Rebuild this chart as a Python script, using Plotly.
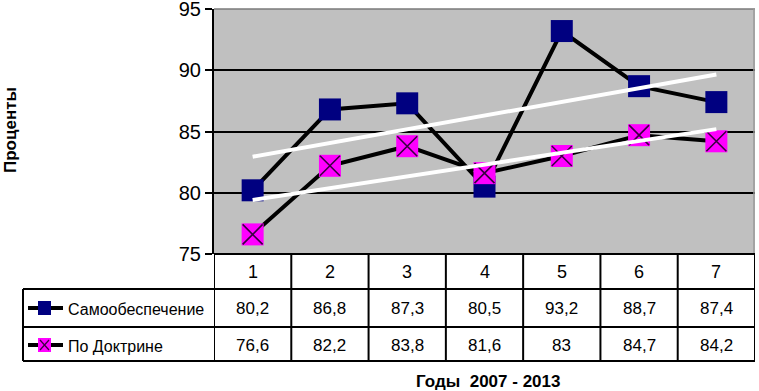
import numpy as np
import plotly.graph_objects as go

categories = [1, 2, 3, 4, 5, 6, 7]
tick_labels = ["1", "2", "3", "4", "5", "6", "7"]
series_names = ["Самообеспечение", "По Доктрине"]
samoobesp = [80.2, 86.8, 87.3, 80.5, 93.2, 88.7, 87.4]
doktrina = [76.6, 82.2, 83.8, 81.6, 83.0, 84.7, 84.2]
samoobesp_lbl = ["80,2", "86,8", "87,3", "80,5", "93,2", "88,7", "87,4"]
doktrina_lbl = ["76,6", "82,2", "83,8", "81,6", "83", "84,7", "84,2"]

W, H = 759, 391
PL, PR, PT, PB = 214, 755, 9, 254  # plot area in pixels

def px(x):
    return (x - PL) / (PR - PL)

def py(y):
    return (PB - y) / (PB - PT)

NAVY = "#000080"
MAG = "#FF00FF"
SANS = "Liberation Sans, Arial, sans-serif"

fig = go.Figure()

x = np.array(categories, dtype=float)
fig.add_trace(go.Scatter(x=categories, y=samoobesp, mode="lines+markers",
                         line=dict(color="black", width=4),
                         marker=dict(symbol="square", size=22, color=NAVY),
                         showlegend=False))
fig.add_trace(go.Scatter(x=categories, y=doktrina, mode="lines+markers",
                         line=dict(color="black", width=4),
                         marker=dict(symbol="square", size=22, color=MAG),
                         showlegend=False))
fig.add_trace(go.Scatter(x=categories, y=doktrina, mode="markers",
                         marker=dict(symbol="x-thin", size=20,
                                     line=dict(color="#3a0040", width=1.6)),
                         showlegend=False))

# linear trend lines (least squares fit of each series)
for ys in (samoobesp, doktrina):
    k, b = np.polyfit(x, np.array(ys), 1)
    fig.add_trace(go.Scatter(x=[x[0], x[-1]], y=[k * x[0] + b, k * x[-1] + b],
                             mode="lines", line=dict(color="white", width=4),
                             showlegend=False, hoverinfo="skip"))

shapes = []
def hline(y, x0, x1, w=2, color="black"):
    shapes.append(dict(type="line", xref="paper", yref="paper",
                       x0=px(x0), x1=px(x1), y0=py(y), y1=py(y),
                       line=dict(color=color, width=w)))

def vline(xv, y0, y1, xref="paper", w=2, color="black"):
    shapes.append(dict(type="line", xref=xref, yref="paper",
                       x0=xv if xref == "x" else px(xv), x1=xv if xref == "x" else px(xv),
                       y0=py(y0), y1=py(y1), line=dict(color=color, width=w)))

# plot area border (top/right)
hline(PT, PL, PR, w=1.5, color="#7a7a7a")
vline(PR - 1, PT, PB, w=1.5, color="#9a9a9a")

# data table
ROW_TOP, ROW1, ROW2, ROW3 = 254, 289, 327, 361
TL = 23
hline(ROW_TOP, PL, PR)
hline(ROW1, TL, PR)
hline(ROW2, TL, PR)
hline(ROW3, TL, PR)
vline(TL, ROW1, ROW3)
for c in [c - 0.5 for c in categories] + [categories[-1] + 0.5]:
    vline(c, ROW_TOP, ROW3, xref="x")

# legend keys in the table
for yc, col in ((308, NAVY), (345, MAG)):
    hline(yc, 28, 63, w=4)
    shapes.append(dict(type="rect", xref="paper", yref="paper",
                       x0=px(38), x1=px(51), y0=py(yc + 7), y1=py(yc - 7),
                       fillcolor=col, line=dict(width=0)))
shapes.append(dict(type="line", xref="paper", yref="paper", x0=px(40), x1=px(49),
                   y0=py(350), y1=py(340), line=dict(color="#3a0040", width=1.2)))
shapes.append(dict(type="line", xref="paper", yref="paper", x0=px(40), x1=px(49),
                   y0=py(340), y1=py(350), line=dict(color="#3a0040", width=1.2)))

annotations = []
def txt(xv, yv, s, xref="x", size=17, xanchor="center", bold=False, angle=0):
    annotations.append(dict(x=xv if xref == "x" else px(xv), y=py(yv), xref=xref, yref="paper",
                            text=f"<b>{s}</b>" if bold else s, showarrow=False,
                            xanchor=xanchor, yanchor="middle", textangle=angle,
                            font=dict(family=SANS, size=size, color="black")))

for c, t in zip(categories, tick_labels):
    txt(c, 272, t, size=18)
for c, t in zip(categories, samoobesp_lbl):
    txt(c, 308, t)
for c, t in zip(categories, doktrina_lbl):
    txt(c, 345, t)
txt(66, 309, series_names[0], xref="paper", xanchor="left", size=16)
txt(66, 346, series_names[1], xref="paper", xanchor="left", size=16)
txt(488, 381, "Годы  2007 - 2013", xref="paper", size=17, bold=True)
txt(10, 130, "Проценты", xref="paper", size=17, bold=True, angle=-90)

fig.update_layout(
    width=W, height=H,
    margin=dict(l=PL, r=W - PR, t=PT, b=H - PB, pad=0, autoexpand=False),
    paper_bgcolor="white", plot_bgcolor="#C0C0C0",
    shapes=shapes, annotations=annotations,
    xaxis=dict(range=[0.5, 7.5], showticklabels=False, showgrid=False,
               zeroline=False, showline=False, ticks="", fixedrange=True,
               automargin=False),
    yaxis=dict(range=[75, 95], dtick=5, tick0=75, showgrid=True, gridcolor="black",
               gridwidth=2, zeroline=False, showline=True, linecolor="black",
               linewidth=2, ticks="outside", ticklen=7, tickcolor="black", tickwidth=2,
               ticklabeloverflow="allow", automargin=False,
               tickfont=dict(family=SANS, size=20, color="black"), fixedrange=True),
)

fig.write_html("out.html", config={"displayModeBar": False},
               post_script="document.body.style.margin='0';document.body.style.overflow='hidden';")
